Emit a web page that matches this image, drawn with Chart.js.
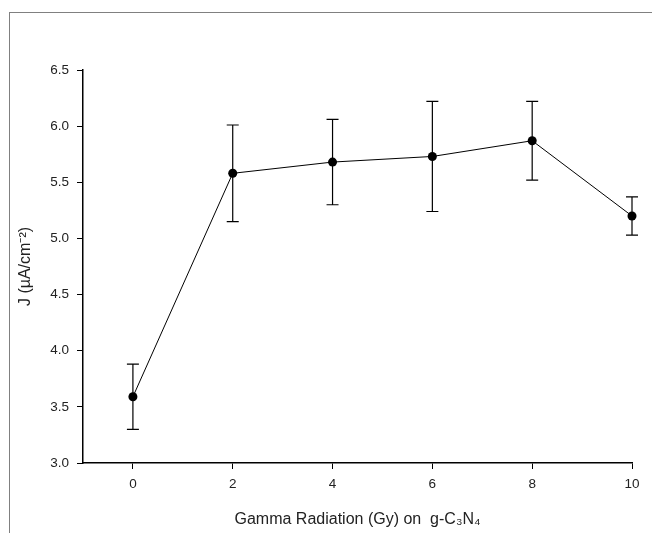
<!doctype html>
<html lang="en">
<head>
<meta charset="utf-8">
<title>J vs Gamma Radiation</title>
<style>
    body {
        margin: 0;
        background-color: white;
    }
    .frame {
        position: absolute;
        left: 9px;
        top: 12px;
        width: 660px;
        height: 540px;
        border-top: 1px solid #808080;
        border-left: 1px solid #808080;
    }
    .chartCard {
        position: absolute;
        left: 0;
        top: 0;
        width: 652px;
        height: 533px;
    }
</style>
</head>
<body>
<div class="frame"></div>
<div class="chartCard">
    <canvas id="myChart" width="652" height="533"></canvas>
</div>
<script src="https://cdn.jsdelivr.net/npm/chart.js"></script>
<script>
    // dose (Gy) and current density J (uA/cm^-2)
    const doses = [0, 2, 4, 6, 8, 10];
    const jValues = [3.59, 5.58, 5.68, 5.73, 5.87, 5.20];
    const jErrors = [0.29, 0.43, 0.38, 0.49, 0.35, 0.17];
    const xTicks = [0, 2, 4, 6, 8, 10];
    const yTicks = [3.0, 3.5, 4.0, 4.5, 5.0, 5.5, 6.0, 6.5];

    const errorBars = {
        id: 'errorBars',
        afterDatasetsDraw: (chart) => {
            const ctx = chart.ctx;
            const xs = chart.scales.x;
            const ys = chart.scales.y;
            ctx.save();
            ctx.strokeStyle = 'black';
            ctx.lineWidth = 1.2;
            doses.forEach((d, i) => {
                const x = xs.getPixelForValue(d);
                const top = ys.getPixelForValue(jValues[i] + jErrors[i]);
                const bot = ys.getPixelForValue(jValues[i] - jErrors[i]);
                ctx.beginPath();
                ctx.moveTo(x, top);
                ctx.lineTo(x, bot);
                ctx.moveTo(x - 6, top);
                ctx.lineTo(x + 6, top);
                ctx.moveTo(x - 6, bot);
                ctx.lineTo(x + 6, bot);
                ctx.stroke();
            });
            ctx.restore();
        }
    };

    const data = {
        datasets: [{
            label: 'J',
            data: doses.map((d, i) => ({ x: d, y: jValues[i] })),
            borderColor: 'black',
            borderWidth: 1,
            backgroundColor: 'black',
            pointRadius: 4.5,
            pointBackgroundColor: 'black',
            pointBorderWidth: 0,
            showLine: true,
            tension: 0,
            clip: false
        }]
    };

    const tickFont = { family: 'Liberation Sans, Arial, sans-serif', size: 13.5 };
    const titleFont = { family: 'Liberation Sans, Arial, sans-serif', size: 16 };

    const config = {
        type: 'scatter',
        data: data,
        plugins: [errorBars],
        options: {
            responsive: false,
            animation: false,
            layout: {
                padding: { left: 0, top: 70, right: 20, bottom: 0 }
            },
            plugins: {
                legend: { display: false },
                tooltip: { enabled: false }
            },
            scales: {
                x: {
                    type: 'linear',
                    min: -1,
                    max: 10,
                    afterBuildTicks: (scale) => {
                        scale.ticks = xTicks.map(v => ({ value: v }));
                    },
                    afterFit: (scale) => { scale.height = 70; },
                    grid: {
                        drawOnChartArea: false,
                        drawTicks: true,
                        tickLength: 6,
                        color: 'black'
                    },
                    border: { color: 'black', width: 1.5 },
                    ticks: {
                        color: '#222',
                        font: tickFont,
                        padding: 7
                    },
                    title: {
                        display: true,
                        text: 'Gamma Radiation (Gy) on  g-C₃N₄',
                        color: '#222',
                        font: titleFont,
                        padding: { top: 8 }
                    }
                },
                y: {
                    min: 3,
                    max: 6.5,
                    afterBuildTicks: (scale) => {
                        scale.ticks = yTicks.map(v => ({ value: v }));
                    },
                    afterFit: (scale) => { scale.width = 83; },
                    grid: {
                        drawOnChartArea: false,
                        drawTicks: true,
                        tickLength: 6,
                        color: 'black'
                    },
                    border: { color: 'black', width: 1.5 },
                    ticks: {
                        color: '#222',
                        font: tickFont,
                        padding: 8,
                        callback: (v) => Number(v).toFixed(1)
                    },
                    title: {
                        display: true,
                        text: 'J (µA/cm⁻²)',
                        color: '#222',
                        font: titleFont,
                        padding: { top: 16, bottom: 8 }
                    }
                }
            }
        }
    };

    const myChart = new Chart(
        document.getElementById('myChart'),
        config
    );
</script>
</body>
</html>
